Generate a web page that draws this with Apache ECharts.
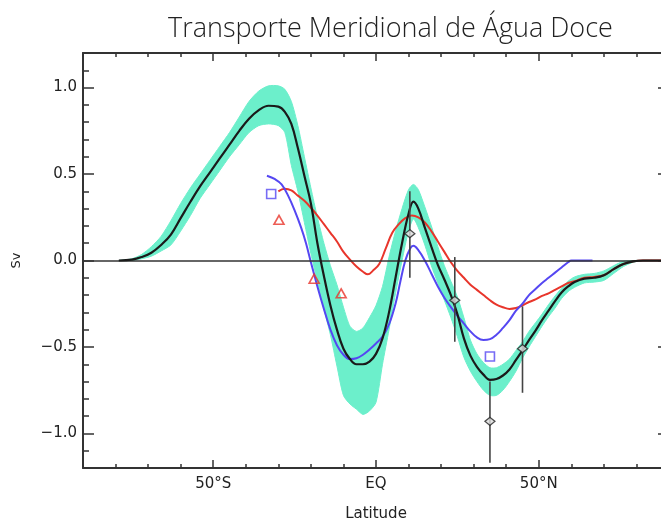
<!DOCTYPE html>
<html>
<head>
<meta charset="utf-8">
<script src="https://cdn.jsdelivr.net/npm/echarts@6/dist/echarts.min.js"></script>
<style>
  html, body { margin: 0; padding: 0; background: #fff; overflow: hidden; }
  #chart { width: 680px; height: 520px; }
</style>
</head>
<body>
<div id="chart"></div>
<script>
// latitudes shared by the model mean and its spread band
const lat = [-79, -75, -72, -69, -66, -63, -60, -57, -54, -51, -48, -45, -42, -39, -36, -33, -30, -28, -26, -24,
  -22, -20, -18, -16, -14, -12, -10, -8, -6, -4, -2, 0, 2, 4, 6, 8, 10, 11.5, 13, 15,
  17, 19, 21, 23, 25, 27, 29, 31, 33, 35, 37, 39, 41, 43, 45, 47, 49, 51, 53, 55,
  57, 59, 61, 64, 67, 70, 73, 76, 79, 82, 86, 90]
// black curve (mean)
const meanSv = [0, 0.005, 0.02, 0.045, 0.09, 0.15, 0.245, 0.34, 0.43, 0.51, 0.59, 0.67, 0.75, 0.82, 0.87, 0.895, 0.89, 0.86, 0.79, 0.65,
  0.49, 0.33, 0.10, -0.09, -0.26, -0.40, -0.51, -0.57, -0.60, -0.60, -0.585, -0.54, -0.45, -0.30, -0.10, 0.10, 0.27, 0.34, 0.30, 0.19,
  0.08, -0.025, -0.11, -0.20, -0.31, -0.45, -0.55, -0.615, -0.66, -0.69, -0.685, -0.665, -0.63, -0.575, -0.52, -0.46, -0.405, -0.345, -0.29, -0.235,
  -0.185, -0.15, -0.125, -0.105, -0.10, -0.085, -0.05, -0.02, -0.005, 0, 0, 0]
// cyan band limits
const bandUpper = [0, 0.01, 0.035, 0.08, 0.14, 0.23, 0.33, 0.42, 0.50, 0.58, 0.66, 0.74, 0.83, 0.92, 0.98, 1.01, 1.01, 0.99, 0.92, 0.78,
  0.60, 0.42, 0.25, 0.10, -0.03, -0.14, -0.27, -0.38, -0.41, -0.39, -0.33, -0.26, -0.15, 0.02, 0.17, 0.30, 0.41, 0.44, 0.41, 0.31,
  0.20, 0.08, -0.03, -0.12, -0.21, -0.33, -0.46, -0.54, -0.59, -0.62, -0.62, -0.60, -0.57, -0.52, -0.47, -0.41, -0.36, -0.31, -0.255, -0.205,
  -0.16, -0.12, -0.095, -0.08, -0.075, -0.06, -0.03, -0.005, 0, 0, 0, 0]
const bandLower = [0, 0, 0.01, 0.025, 0.055, 0.09, 0.17, 0.26, 0.36, 0.44, 0.52, 0.60, 0.67, 0.74, 0.78, 0.79, 0.78, 0.74, 0.55, 0.40,
  0.22, 0.04, -0.12, -0.28, -0.43, -0.61, -0.78, -0.83, -0.86, -0.89, -0.87, -0.82, -0.60, -0.40, -0.19, 0.0, 0.17, 0.24, 0.19, 0.09,
  -0.03, -0.13, -0.23, -0.33, -0.44, -0.56, -0.64, -0.70, -0.75, -0.78, -0.78, -0.75, -0.70, -0.64, -0.565, -0.50, -0.44, -0.38, -0.325, -0.275,
  -0.22, -0.18, -0.155, -0.13, -0.125, -0.115, -0.075, -0.035, -0.01, 0, 0, 0]

// red curve
const redLat = [-30, -28, -26, -24, -22, -20, -18, -16, -14, -12, -10, -8, -6, -4, -2.5, -1, 1, 3, 5, 7,
  9, 11, 13, 15, 17, 19, 21, 23, 25, 27, 29, 31, 33, 35, 37, 39, 41, 43, 45, 47,
  49, 51, 53, 55, 57, 59, 61, 64, 67, 70, 73, 76, 79, 82, 86, 90]
const redSv = [0.40, 0.415, 0.405, 0.375, 0.345, 0.305, 0.26, 0.21, 0.16, 0.11, 0.05, 0.005, -0.035, -0.065, -0.08, -0.06, -0.02, 0.07, 0.16, 0.21,
  0.245, 0.26, 0.25, 0.22, 0.17, 0.11, 0.05, -0.01, -0.06, -0.10, -0.14, -0.17, -0.20, -0.23, -0.255, -0.27, -0.28, -0.275, -0.26, -0.24,
  -0.225, -0.205, -0.19, -0.17, -0.15, -0.13, -0.12, -0.10, -0.095, -0.085, -0.05, -0.02, -0.005, 0, 0, 0]

// blue curve
const blueLat = [-33.5, -31, -29, -27, -25, -23, -21.5, -20, -18, -16, -14, -12, -10, -8, -6, -4, -2, 0, 2, 4,
  6, 7.5, 9, 10.5, 11.5, 13, 15, 17, 19, 21, 23, 25, 27, 29, 31, 33, 35, 37, 39, 41,
  43, 45, 47, 49, 51, 53, 55, 57, 59, 60, 63, 66.5]
const blueSv = [0.49, 0.47, 0.44, 0.375, 0.29, 0.19, 0.10, -0.01, -0.15, -0.28, -0.40, -0.49, -0.545, -0.57, -0.565, -0.545, -0.515, -0.48, -0.44, -0.37,
  -0.25, -0.12, 0.0, 0.07, 0.085, 0.06, 0.0, -0.075, -0.15, -0.215, -0.27, -0.32, -0.365, -0.41, -0.445, -0.46, -0.455, -0.43, -0.39, -0.345,
  -0.29, -0.25, -0.20, -0.165, -0.13, -0.10, -0.07, -0.04, -0.01, 0, 0, 0]

// observations
const squareLat = [-32.2, 35]
const squareSv = [0.385, -0.555]
const triangleLat = [-29.8, -19.0, -10.7]
const triangleSv = [0.235, -0.105, -0.19]
const diamondLat = [10.4, 24.2, 35, 45]
const diamondSv = [0.155, -0.23, -0.93, -0.51]
const errLow = [-0.10, -0.47, -1.17, -0.765]
const errHigh = [0.40, 0.02, -0.70, -0.265]

const xLabels = { '-50': '50°S', '0': 'EQ', '50': '50°N' }
const yMajor = [-1, -0.5, 0, 0.5, 1]

const pairs = (xs, ys) => xs.map((x, i) => [x, ys[i]])
const axisColor = '#333'
const labelFont = 'DejaVu Sans'
const line = { onZero: false, lineStyle: { color: axisColor, width: 2 } }
const noLine = { show: false, onZero: false }

const chart = echarts.init(document.getElementById('chart'))
chart.setOption({
  animation: false,
  title: {
    text: 'Transporte Meridional de Água Doce',
    left: 163,
    top: 11,
    textStyle: { fontFamily: 'Open Sans', fontWeight: 300, fontSize: 27, color: '#222' }
  },
  grid: { left: 83, right: 11, top: 53, bottom: 52, outerBoundsMode: 'none' },
  xAxis: [
    {
      type: 'value', min: -90, max: 90, interval: 10, position: 'bottom',
      name: 'Latitude', nameLocation: 'middle', nameGap: 39,
      nameTextStyle: { fontFamily: labelFont, fontSize: 15, color: '#222' },
      axisLine: line,
      axisTick: { inside: true, length: 4, lineStyle: { color: axisColor, width: 1.5 } },
      axisLabel: {
        margin: 9, fontFamily: labelFont, fontSize: 15, color: '#222',
        formatter: v => xLabels[String(Math.round(v))] || ''
      },
      splitLine: { show: false }
    },
    {
      type: 'value', min: -90, max: 90, position: 'bottom',
      axisLine: noLine,
      axisTick: { inside: true, length: 8, customValues: [-50, 0, 50], lineStyle: { color: axisColor, width: 1.5 } },
      axisLabel: { show: false }, splitLine: { show: false }
    },
    {
      type: 'value', min: -90, max: 90, interval: 10, position: 'top',
      axisLine: line,
      axisTick: { inside: true, length: 4, lineStyle: { color: axisColor, width: 1.5 } },
      axisLabel: { show: false }, splitLine: { show: false }
    },
    {
      type: 'value', min: -90, max: 90, position: 'top',
      axisLine: noLine,
      axisTick: { inside: true, length: 8, customValues: [-50, 0, 50], lineStyle: { color: axisColor, width: 1.5 } },
      axisLabel: { show: false }, splitLine: { show: false }
    }
  ],
  yAxis: [
    {
      type: 'value', min: -1.2, max: 1.2, interval: 0.1, position: 'left',
      name: 'Sv', nameLocation: 'middle', nameGap: 60, nameRotate: 90,
      nameTextStyle: { fontFamily: labelFont, fontSize: 13, color: '#222' },
      axisLine: line,
      axisTick: { inside: true, length: 6, lineStyle: { color: axisColor, width: 1.5 } },
      axisLabel: {
        margin: 6, fontFamily: labelFont, fontSize: 15, color: '#222',
        formatter: v => {
          const r = Math.round(v * 10) / 10
          if (Math.abs(r * 2 - Math.round(r * 2)) > 1e-6) return ''
          return (r < 0 ? '\u2212' : '') + Math.abs(r).toFixed(1)
        }
      },
      splitLine: { show: false }
    },
    {
      type: 'value', min: -1.2, max: 1.2, position: 'left',
      axisLine: noLine,
      axisTick: { inside: true, length: 11, customValues: yMajor, lineStyle: { color: axisColor, width: 1.5 } },
      axisLabel: { show: false }, splitLine: { show: false }
    },
    {
      type: 'value', min: -1.2, max: 1.2, position: 'right',
      axisLine: { show: true, onZero: false, lineStyle: { color: axisColor, width: 2 } },
      axisTick: { show: true, inside: true, length: 11, customValues: yMajor, lineStyle: { color: axisColor, width: 1.5 } },
      axisLabel: { show: false }, splitLine: { show: false }
    }
  ],
  series: [
    {
      // spread band as one polygon: upper edge west to east, lower edge back
      name: 'band', type: 'custom', z: 1,
      data: lat.map((x, i) => [x, bandLower[i], bandUpper[i]]),
      renderItem: (params, api) => {
        if (params.dataIndex !== 0) return null
        const top = lat.map((x, i) => api.coord([x, bandUpper[i]]))
        const bottom = lat.map((x, i) => api.coord([x, bandLower[i]])).reverse()
        return {
          type: 'polygon',
          shape: { points: top.concat(bottom), smooth: 0.25 },
          style: { fill: '#6cefcb', stroke: '#6cefcb', lineWidth: 1 }
        }
      }
    },
    {
      name: 'zero', type: 'line', data: [], z: 3,
      markLine: {
        silent: true, symbol: 'none', label: { show: false },
        lineStyle: { color: '#333', width: 1.5, type: 'solid' },
        data: [{ yAxis: 0 }]
      }
    },
    {
      name: 'red', type: 'line', data: pairs(redLat, redSv), smooth: 0.4, symbol: 'none',
      lineStyle: { color: '#e8352b', width: 2 }, z: 4
    },
    {
      name: 'blue', type: 'line', data: pairs(blueLat, blueSv), smooth: 0.4, symbol: 'none',
      lineStyle: { color: '#5547f2', width: 2 }, z: 4
    },
    {
      name: 'mean', type: 'line', data: pairs(lat, meanSv), smooth: 0.4, symbol: 'none',
      lineStyle: { color: '#1a1a1a', width: 2.2 }, z: 5
    },
    {
      name: 'errorbars', type: 'custom', z: 6,
      data: diamondLat.map((x, i) => [x, errLow[i], errHigh[i]]),
      renderItem: (params, api) => {
        const p1 = api.coord([api.value(0), api.value(1)])
        const p2 = api.coord([api.value(0), api.value(2)])
        return {
          type: 'line',
          shape: { x1: p1[0], y1: p1[1], x2: p2[0], y2: p2[1] },
          style: { stroke: '#444', lineWidth: 1.6 }
        }
      }
    },
    {
      name: 'diamonds', type: 'scatter', z: 7, data: pairs(diamondLat, diamondSv),
      symbol: 'diamond', symbolSize: [10, 8],
      itemStyle: { color: '#ddd', borderColor: '#222', borderWidth: 1.3 }
    },
    {
      name: 'squares', type: 'scatter', z: 7, data: pairs(squareLat, squareSv),
      symbol: 'rect', symbolSize: 9,
      itemStyle: { color: 'rgba(255,255,255,0)', borderColor: '#5547f2', borderWidth: 1.6 }
    },
    {
      name: 'triangles', type: 'scatter', z: 7, data: pairs(triangleLat, triangleSv),
      symbol: 'triangle', symbolSize: [10, 9],
      itemStyle: { color: 'rgba(255,255,255,0)', borderColor: '#e8352b', borderWidth: 1.6 }
    }
  ]
})
</script>
</body>
</html>
